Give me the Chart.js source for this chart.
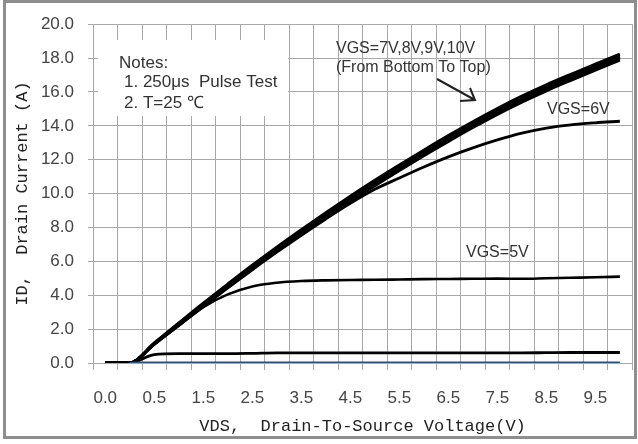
<!DOCTYPE html>
<html>
<head>
<meta charset="utf-8">
<script src="https://cdn.jsdelivr.net/npm/chart.js@4/dist/chart.umd.min.js"></script>
<style>
  html, body { margin: 0; padding: 0; background: #fff; }
  #wrap { width: 638px; height: 444px; }
</style>
</head>
<body>
<div id="wrap"><canvas id="myChart" width="638" height="444"></canvas></div>
<script>
// categories on the VDS axis (every other one is labelled)
const vds = ['0.0','0.25','0.5','1.0','1.5','2.0','2.5','3.0','3.5','4.0','4.5',
             '5.0','5.5','6.0','6.5','7.0','7.5','8.0','8.5','9.0','9.5','10.0'];

// drain current, A
const id10 = [0,0,1.18,2.36,3.53,4.66,5.77,6.84,7.87,8.87,9.84,10.78,11.68,12.56,13.42,14.24,15.02,15.75,16.42,17.04,17.64,18.24];
const id9  = [0,0,1.16,2.32,3.47,4.6,5.7,6.76,7.79,8.78,9.74,10.67,11.57,12.45,13.3,14.12,14.9,15.62,16.29,16.91,17.51,18.1];
const id8  = [0,0,1.14,2.28,3.42,4.53,5.63,6.68,7.7,8.69,9.64,10.57,11.47,12.35,13.2,14.02,14.8,15.52,16.19,16.81,17.41,18.0];
const id7  = [0,0,1.12,2.24,3.36,4.47,5.56,6.6,7.62,8.6,9.54,10.46,11.36,12.24,13.08,13.9,14.68,15.4,16.07,16.69,17.29,17.88];
const id6  = [0,0,1.12,2.22,3.33,4.43,5.5,6.54,7.54,8.5,9.42,10.25,10.92,11.57,12.17,12.7,13.17,13.57,13.87,14.06,14.18,14.27];
const id5  = [0,0,1.1,2.2,3.3,4.05,4.52,4.74,4.84,4.88,4.9,4.91,4.93,4.95,4.96,4.97,4.98,4.97,5.0,5.03,5.06,5.1];
const id4  = [0,0,0.5,0.55,0.55,0.55,0.57,0.6,0.6,0.6,0.6,0.6,0.6,0.6,0.6,0.6,0.6,0.6,0.61,0.62,0.62,0.62];
const id3  = [null,0,0.02,0.02,0.02,0.02,0.02,0.02,0.02,0.02,0.02,0.02,0.02,0.02,0.02,0.02,0.02,0.02,0.02,0.02,0.02,0.02];

const yTicks = { min: 0, max: 20, step: 2 };

function line(label, data, color, width) {
  return {
    label: label,
    data: data,
    borderColor: color,
    borderWidth: width,
    pointRadius: 0,
    fill: false,
    cubicInterpolationMode: 'monotone'
  };
}

// notes, labels, arrow and outer frame
const decor = {
  id: 'decor',
  beforeDatasetsDraw(chart) {
    const ctx = chart.ctx;
    ctx.save();
    ctx.fillStyle = '#fff';
    ctx.fillRect(98, 40, 190, 76);
    ctx.fillStyle = '#333';
    ctx.font = '17px "Liberation Sans", Arial, sans-serif';
    ctx.textBaseline = 'middle';
    ctx.fillText('Notes:', 119, 63);
    ctx.fillText('1. 250μs  Pulse Test', 124, 82);
    ctx.fillText('2. T=25 ℃', 124, 103);
    ctx.restore();
  },
  afterDraw(chart) {
    const ctx = chart.ctx;
    ctx.save();
    ctx.fillStyle = '#333';
    ctx.font = '16px "Liberation Sans", Arial, sans-serif';
    ctx.textBaseline = 'middle';
    ctx.fillText('VGS=7V,8V,9V,10V', 336, 49);
    ctx.fillText('(From Bottom To Top)', 336, 68);
    ctx.fillText('VGS=6V', 547, 110);
    ctx.fillText('VGS=5V', 466, 253);

    ctx.strokeStyle = '#222';
    ctx.lineWidth = 2;
    ctx.beginPath();
    ctx.moveTo(437, 79);
    ctx.lineTo(475, 100);
    ctx.moveTo(460, 101);
    ctx.lineTo(475, 100);
    ctx.lineTo(470, 88);
    ctx.stroke();

    ctx.strokeStyle = '#8e8e8e';
    ctx.lineWidth = 3;
    ctx.strokeRect(4.5, 1.5, 631, 436);
    ctx.restore();
  }
};

const ctx = document.getElementById('myChart').getContext('2d');

new Chart(ctx, {
  type: 'line',
  data: {
    labels: vds,
    datasets: [
      line('VGS=3V', id3, '#2b4f7e', 2.5),
      line('VGS=4V', id4, '#000', 2.8),
      line('VGS=5V', id5, '#000', 2.6),
      line('VGS=6V', id6, '#000', 2.8),
      line('VGS=7V', id7, '#000', 3),
      line('VGS=8V', id8, '#000', 3),
      line('VGS=9V', id9, '#000', 3),
      line('VGS=10V', id10, '#000', 3)
    ]
  },
  options: {
    responsive: false,
    animation: false,
    layout: { padding: { top: 23, right: 5, left: 0, bottom: 0 } },
    plugins: {
      legend: { display: false },
      tooltip: { enabled: false }
    },
    scales: {
      x: {
        type: 'category',
        offset: true,
        afterFit: (s) => { s.height = 81; },
        grid: { offset: true, color: '#a8a8a8', lineWidth: 1, tickLength: 7 },
        border: { color: '#a8a8a8' },
        ticks: {
          autoSkip: false,
          maxRotation: 0,
          padding: 18,
          color: '#444',
          font: { family: '"Liberation Sans", Arial, sans-serif', size: 17 },
          callback: function (value, index) {
            return index % 2 === 0 ? this.getLabelForValue(value) : '';
          }
        },
        title: {
          display: true,
          text: 'VDS,  Drain-To-Source Voltage(V)',
          color: '#222',
          font: { family: '"Liberation Mono", monospace', size: 17 },
          padding: 7
        }
      },
      y: {
        min: yTicks.min,
        max: yTicks.max,
        afterFit: (s) => { s.width = 93; },
        grid: { color: '#a8a8a8', lineWidth: 1, tickLength: 5 },
        border: { color: '#a8a8a8' },
        ticks: {
          stepSize: yTicks.step,
          padding: 14,
          color: '#444',
          font: { family: '"Liberation Sans", Arial, sans-serif', size: 17 },
          callback: (v) => v.toFixed(1)
        },
        title: {
          display: true,
          text: 'ID,  Drain Current (A)',
          color: '#222',
          font: { family: '"Liberation Mono", monospace', size: 17 },
          padding: 12
        }
      }
    }
  },
  plugins: [decor]
});
</script>
</body>
</html>
